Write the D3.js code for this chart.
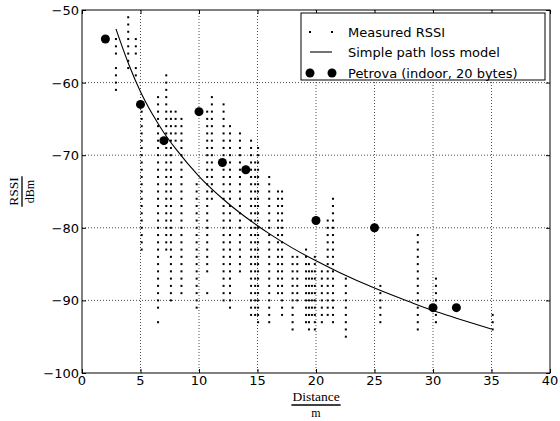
<!DOCTYPE html>
<html>
<head>
<meta charset="utf-8">
<script src="https://cdn.jsdelivr.net/npm/d3@7"></script>
<style>
body { margin: 0; background: #fff; }
</style>
</head>
<body>
<script>
// measured RSSI columns: [distance, highest dBm, lowest dBm], one dot per dB level seen
var measuredSpans = [
  [2.9, -54, -56], [2.9, -58, -61],
  [3.95, -51, -58],
  [4.6, -54, -56], [4.6, -58, -59],
  [5.1, -64, -83],
  [6.5, -62, -91], [6.5, -93, -93],
  [7.2, -59, -83],
  [7.6, -64, -90],
  [8.0, -64, -68],
  [8.5, -65, -89],
  [9.8, -74, -91],
  [10.7, -64, -86], [10.7, -89, -89],
  [11.1, -62, -76],
  [12.1, -63, -90],
  [12.65, -66, -91],
  [13.5, -67, -86],
  [14.45, -68, -92],
  [14.8, -71, -92],
  [15.05, -69, -93],
  [16.0, -73, -93],
  [16.75, -75, -89],
  [17.1, -75, -92],
  [18.0, -84, -94],
  [18.4, -84, -90],
  [19.15, -83, -93],
  [19.4, -85, -94],
  [19.65, -86, -92],
  [19.9, -84, -94],
  [20.5, -86, -93],
  [21.0, -79, -92],
  [21.45, -76, -93],
  [22.55, -87, -95],
  [25.5, -88, -93],
  [28.7, -81, -94],
  [30.25, -87, -93],
  [35.1, -92, -94]
];

// simple path loss model
var modelDist = [2.9, 4, 5, 6, 7, 8, 10, 12, 14, 16, 18, 20, 22, 25, 28, 30, 32, 35];
var modelRssi = [-52.6, -57.5, -61.25, -64.3, -66.9, -69.1, -72.9, -75.96, -78.55, -80.8, -82.8, -84.55, -86.15, -88.3, -90.2, -91.4, -92.45, -93.95];

// Petrova (indoor, 20 bytes)
var petrovaDist = [2, 5, 7, 10, 12, 14, 20, 25, 30, 32];
var petrovaRssi = [-54, -63, -68, -64, -71, -72, -79, -80, -91, -91];

var xTicks = [0, 5, 10, 15, 20, 25, 30, 35, 40];
var yTicks = [-100, -90, -80, -70, -60, -50];

var legendLabels = ["Measured RSSI", "Simple path loss model", "Petrova (indoor, 20 bytes)"];

var plotL = 82, plotR = 550, plotT = 10, plotB = 373;

var svg = d3.select("body")
    .append("svg")
    .attr("width", 560)
    .attr("height", 421)
    .style("display", "block");

var x = d3.scaleLinear().domain([0, 40]).range([plotL, plotR]);
var y = d3.scaleLinear().domain([-100, -50]).range([plotB, plotT]);

// grid
svg.append("g").selectAll("line")
    .data(xTicks.slice(1, -1))
    .enter().append("line")
    .attr("x1", d => x(d)).attr("x2", d => x(d))
    .attr("y1", plotT).attr("y2", plotB)
    .attr("stroke", "#000").attr("stroke-width", 0.7)
    .attr("stroke-dasharray", "1,2");

svg.append("g").selectAll("line")
    .data(yTicks.slice(1, -1))
    .enter().append("line")
    .attr("x1", plotL).attr("x2", plotR)
    .attr("y1", d => y(d)).attr("y2", d => y(d))
    .attr("stroke", "#000").attr("stroke-width", 0.7)
    .attr("stroke-dasharray", "1,2");

// measured dots
var measured = [];
measuredSpans.forEach(function(s) {
  for (var v = s[1]; v >= s[2]; v--) measured.push([s[0], v]);
});

svg.append("g").selectAll("rect")
    .data(measured)
    .enter().append("rect")
    .attr("x", d => x(d[0]) - 1)
    .attr("y", d => y(d[1]) - 1)
    .attr("width", 2)
    .attr("height", 2)
    .attr("fill", "#000");

// model line
var line = d3.line()
    .x(d => x(d[0]))
    .y(d => y(d[1]))
    .curve(d3.curveMonotoneX);

svg.append("path")
    .datum(d3.zip(modelDist, modelRssi))
    .attr("d", line)
    .attr("fill", "none")
    .attr("stroke", "#000")
    .attr("stroke-width", 1.1);

// petrova
svg.append("g").selectAll("circle")
    .data(d3.zip(petrovaDist, petrovaRssi))
    .enter().append("circle")
    .attr("cx", d => x(d[0]))
    .attr("cy", d => y(d[1]))
    .attr("r", 4.5)
    .attr("fill", "#000");

// frame
svg.append("rect")
    .attr("x", plotL).attr("y", plotT)
    .attr("width", plotR - plotL).attr("height", plotB - plotT)
    .attr("fill", "none").attr("stroke", "#000").attr("stroke-width", 1);

// inward ticks on all four sides
var tk = 4;
svg.append("g").call(d3.axisBottom(x).tickValues(xTicks).tickSize(-tk).tickFormat(""))
    .attr("transform", "translate(0," + plotB + ")");
svg.append("g").call(d3.axisTop(x).tickValues(xTicks).tickSize(-tk).tickFormat(""))
    .attr("transform", "translate(0," + plotT + ")");
svg.append("g").call(d3.axisLeft(y).tickValues(yTicks).tickSize(-tk).tickFormat(""))
    .attr("transform", "translate(" + plotL + ",0)");
svg.append("g").call(d3.axisRight(y).tickValues(yTicks).tickSize(-tk).tickFormat(""))
    .attr("transform", "translate(" + plotR + ",0)");
svg.selectAll(".domain").remove();
svg.selectAll(".tick line").attr("stroke", "#000");

// tick labels
svg.append("g").selectAll("text")
    .data(xTicks)
    .enter().append("text")
    .attr("x", d => x(d))
    .attr("y", plotB + 12)
    .attr("text-anchor", "middle")
    .attr("font-family", "DejaVu Sans")
    .attr("font-size", "13px")
    .text(d => d);

svg.append("g").selectAll("text")
    .data(yTicks)
    .enter().append("text")
    .attr("x", plotL - 3)
    .attr("y", d => y(d) + 5)
    .attr("text-anchor", "end")
    .attr("font-family", "DejaVu Sans")
    .attr("font-size", "13px")
    .text(d => String(d).replace("-", "\u2212"));

// axis labels as fractions
function fraction(g, num, den) {
  var t1 = g.append("text").attr("text-anchor", "middle").attr("y", -4)
      .attr("font-family", "Liberation Serif").attr("font-size", "13.5px").text(num);
  g.append("text").attr("text-anchor", "middle").attr("y", 12)
      .attr("font-family", "Liberation Serif").attr("font-size", "12px").text(den);
  var w = t1.node().getComputedTextLength() + 2;
  g.append("line").attr("x1", -w / 2).attr("x2", w / 2).attr("y1", 0).attr("y2", 0)
      .attr("stroke", "#000").attr("stroke-width", 1.3);
}

fraction(svg.append("g").attr("transform", "translate(" + ((plotL + plotR) / 2) + ",405)"), "Distance", "m");
fraction(svg.append("g").attr("transform", "translate(22," + ((plotT + plotB) / 2) + ") rotate(-90)"), "RSSI", "dBm");

// legend
var lg = svg.append("g");
lg.append("rect")
    .attr("x", 301).attr("y", 13)
    .attr("width", 244).attr("height", 67)
    .attr("fill", "#fff").attr("stroke", "#000").attr("stroke-width", 1);

var rowY = [32, 52, 73];
lg.selectAll("text")
    .data(legendLabels)
    .enter().append("text")
    .attr("x", 348)
    .attr("y", (d, i) => rowY[i] + 5)
    .attr("font-family", "DejaVu Sans")
    .attr("font-size", "13px")
    .text(d => d);

[310, 332].forEach(function(mx) {
  lg.append("rect").attr("x", mx - 1).attr("y", rowY[0] - 1)
      .attr("width", 2).attr("height", 2).attr("fill", "#000");
  lg.append("circle").attr("cx", mx).attr("cy", rowY[2]).attr("r", 4.5).attr("fill", "#000");
});
lg.append("line")
    .attr("x1", 310).attr("x2", 332)
    .attr("y1", rowY[1]).attr("y2", rowY[1])
    .attr("stroke", "#000").attr("stroke-width", 1.1);
</script>
</body>
</html>
